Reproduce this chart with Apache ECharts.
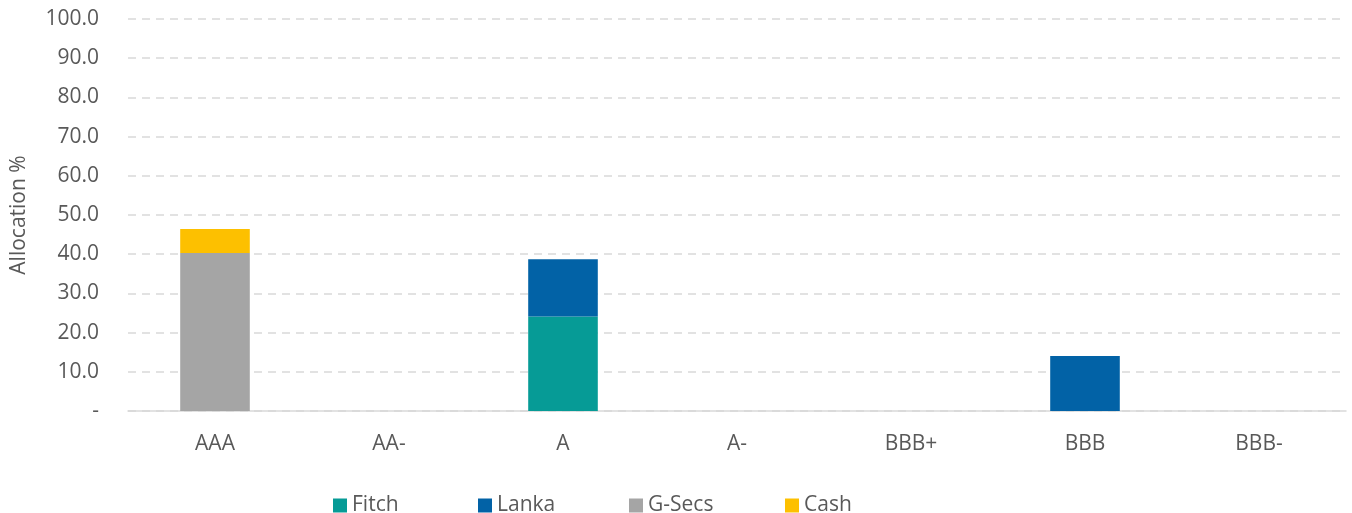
<!DOCTYPE html>
<html>
<head>
<meta charset="utf-8">
<script src="https://cdn.jsdelivr.net/npm/echarts@6/dist/echarts.min.js"></script>
<style>html,body{margin:0;padding:0;background:#fff;}#c{width:1352px;height:513px;}</style>
</head>
<body>
<div id="c"></div>
<script>
var categories = ['AAA', 'AA-', 'A', 'A-', 'BBB+', 'BBB', 'BBB-'];
var fitch = [null, null, 24.1, null, null, null, null];
var lanka = [null, null, 14.6, null, null, 14.0, null];
var gsecs = [40.3, null, null, null, null, null, null];
var cash = [6.1, null, null, null, null, null, null];
var yTicks = [0, 10, 20, 30, 40, 50, 60, 70, 80, 90, 100];
var legendNames = ['Fitch', 'Lanka', 'G-Secs', 'Cash'];

var font = 'Open Sans, Liberation Sans, sans-serif';
var fs = 21;
var chart = echarts.init(document.getElementById('c'));
function s(name, data, color) {
  return { name: name, type: 'bar', stack: 'total', data: data, barWidth: '40%',
    itemStyle: { color: color }, emphasis: { disabled: true } };
}
var legendLeft = [333, 478, 629, 785];
var legends = legendNames.map(function (n, i) {
  return {
    left: legendLeft[i], top: 495, itemWidth: 14, itemHeight: 14, itemGap: 5,
    icon: 'rect', padding: 0,
    textStyle: { fontFamily: font, fontSize: fs, color: '#595959' },
    data: [n]
  };
});
chart.setOption({
  animation: false,
  grid: { left: 128, right: 6, top: 19, bottom: 102 },
  legend: legends,
  xAxis: {
    type: 'category', data: categories,
    axisLine: { lineStyle: { color: '#d9d9d9', width: 1.5 } },
    axisTick: { show: false },
    axisLabel: { fontFamily: font, fontSize: fs, color: '#595959', margin: 23 }
  },
  yAxis: {
    type: 'value', min: yTicks[0], max: yTicks[yTicks.length - 1], interval: 10,
    name: 'Allocation %', nameLocation: 'middle', nameGap: 98, nameRotate: 90,
    nameTextStyle: { fontFamily: font, fontSize: fs, color: '#595959' },
    axisLine: { show: false }, axisTick: { show: false },
    axisLabel: { fontFamily: font, fontSize: fs, color: '#595959', margin: 29,
      formatter: function (v) { return v === 0 ? '-' : v.toFixed(1); } },
    splitLine: { lineStyle: { color: '#d9d9d9', type: [8, 6], width: 1.5 } }
  },
  series: [
    s('Fitch', fitch, '#069b96'),
    s('Lanka', lanka, '#0262a6'),
    s('G-Secs', gsecs, '#a5a5a5'),
    s('Cash', cash, '#fdc000')
  ]
});
</script>
</body>
</html>
